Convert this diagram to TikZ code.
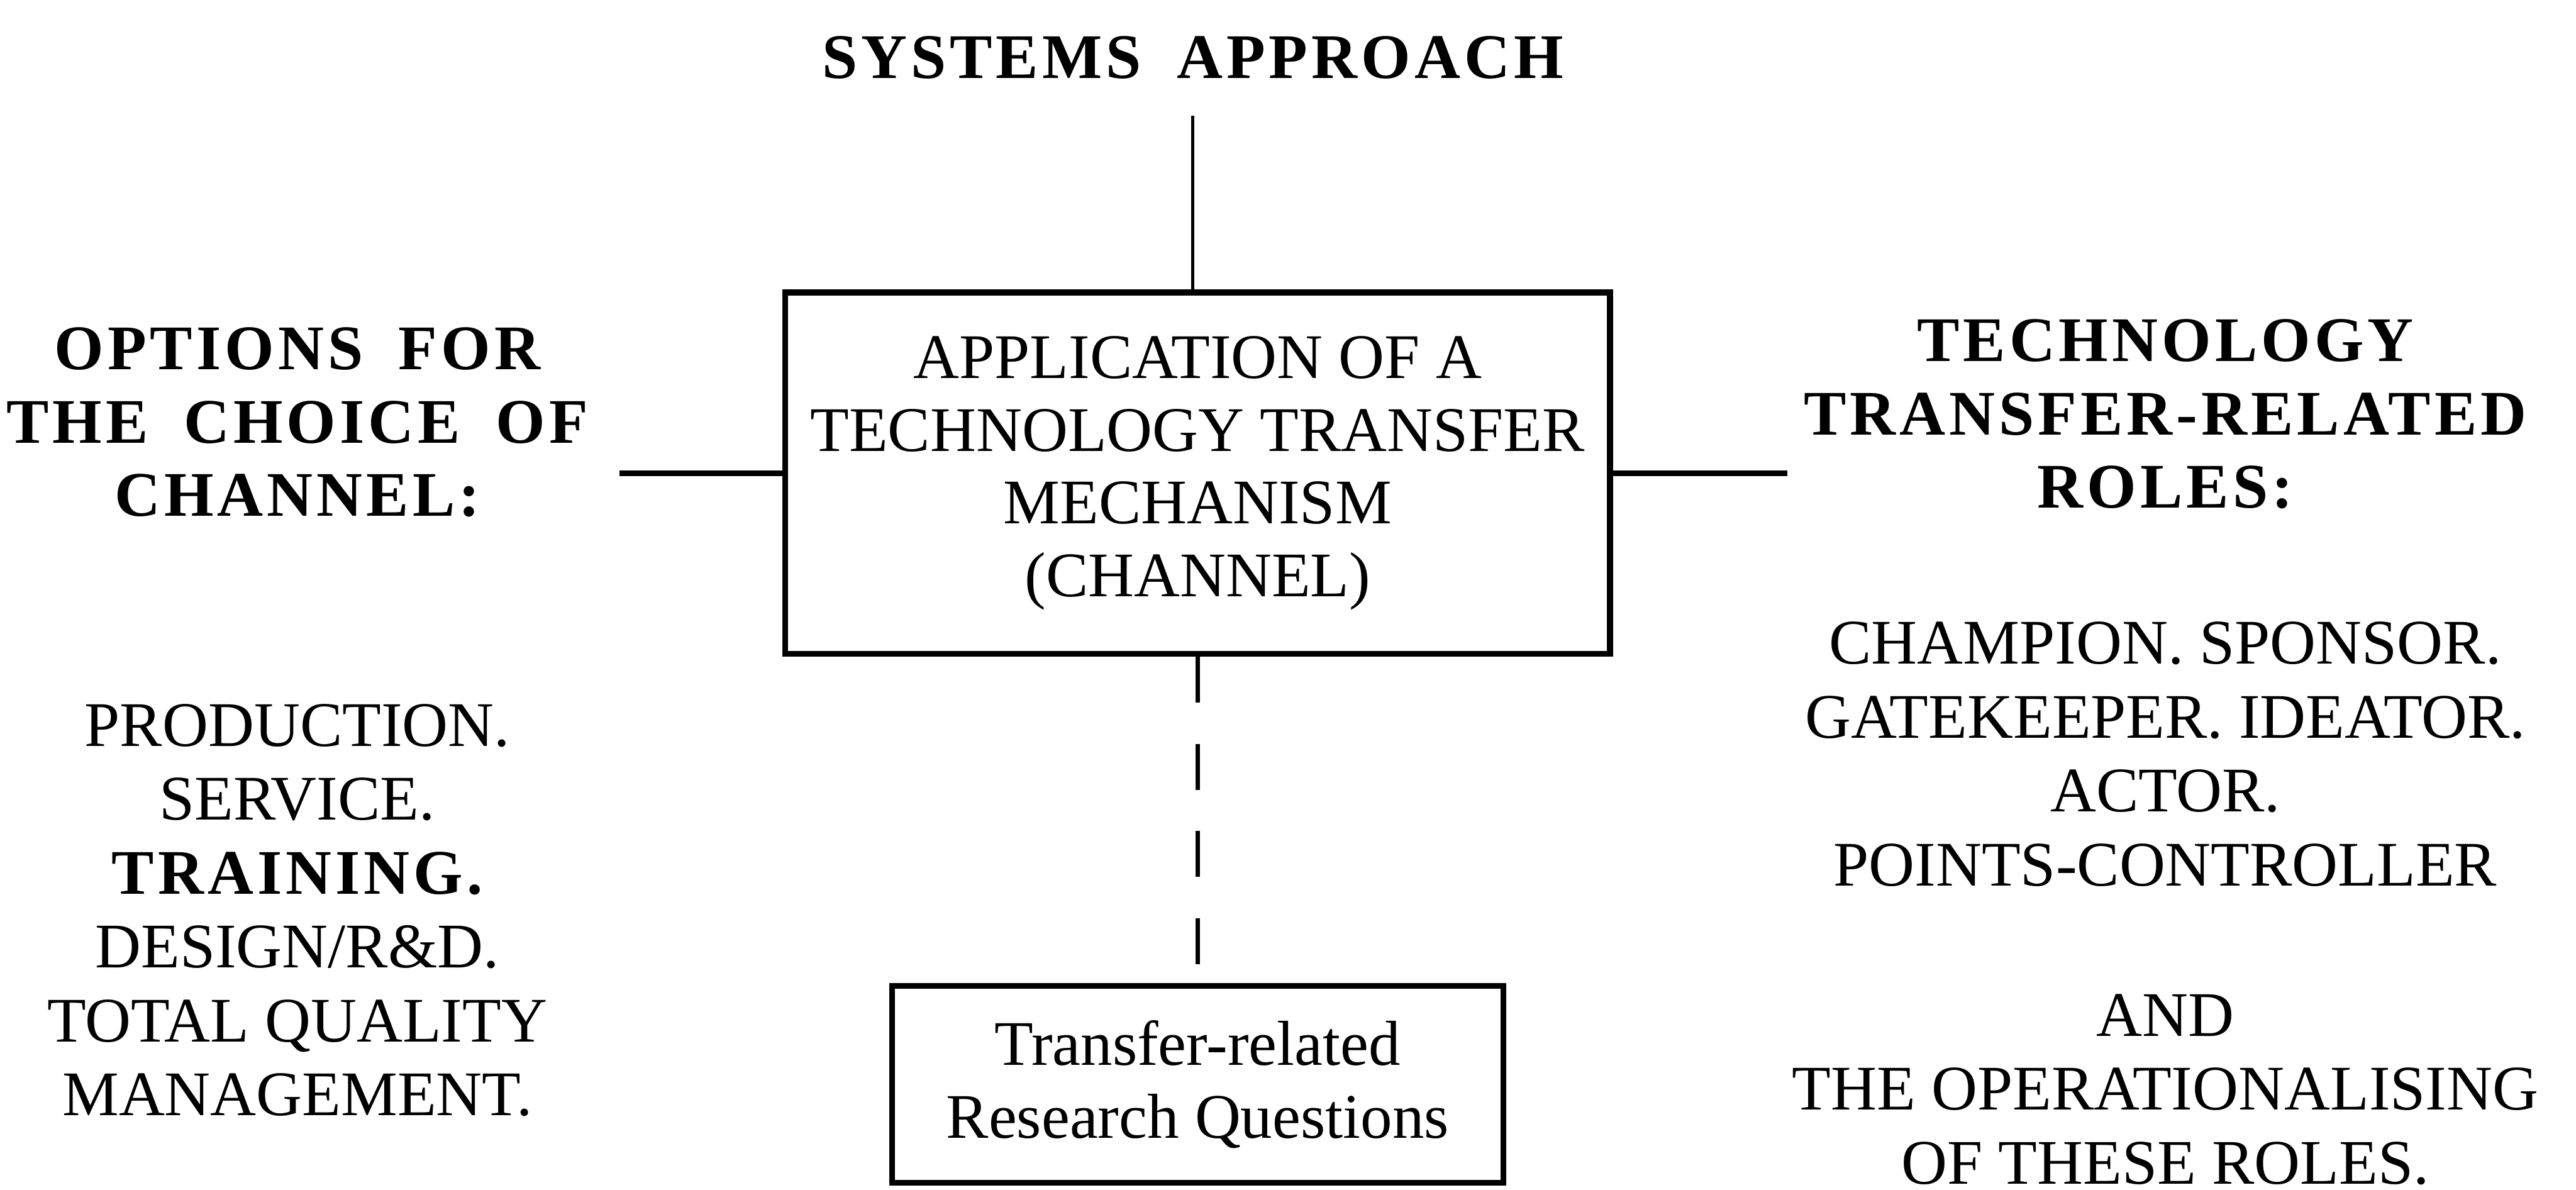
\documentclass[tikz,border=0pt]{standalone}
\usepackage{fontspec}
\setmainfont{Liberation Serif}
\newfontfamily\headfont{Liberation Serif}[LetterSpace=6,WordSpace=1.8]

\begin{document}
\begin{tikzpicture}[box/.style={draw, line width=1pt, align=center, inner sep=0pt, font=\fontsize{11}{12.6}\selectfont}, head/.style={align=center, font=\headfont\bfseries\fontsize{11}{12.7}\selectfont}, list/.style={align=center, font=\fontsize{11}{12.8}\selectfont}, link/.style={line width=1pt}, thin link/.style={line width=0.6pt}, dash link/.style={line width=0.8pt, dash pattern=on 0.28cm off 0.25cm}]
\useasboundingbox (0,0) rectangle (15.68,7.24);

\node[head] (title) at (7.26,6.89) {SYSTEMS APPROACH};
\node[box, minimum width=5.02cm, minimum height=2.2cm] (channel) at (7.29,4.36) {APPLICATION OF A\\TECHNOLOGY TRANSFER\\MECHANISM\\(CHANNEL)};
\node[box, minimum width=3.72cm, minimum height=1.2cm] (questions) at (7.29,0.64) {Transfer-related\\Research Questions};

\node[head] (options) at (1.81,4.67) {OPTIONS FOR\\THE CHOICE OF\\CHANNEL:};
\node[list] (choices) at (1.81,1.70) {PRODUCTION.\\SERVICE.\\{\headfont\bfseries TRAINING.}\\DESIGN/R\&D.\\TOTAL QUALITY\\MANAGEMENT.};
\node[head] (roles) at (13.18,4.72) {TECHNOLOGY\\TRANSFER-RELATED\\ROLES:};
\node[list] (rolelist) at (13.18,2.65) {CHAMPION. SPONSOR.\\GATEKEEPER. IDEATOR.\\ACTOR.\\POINTS-CONTROLLER};
\node[list] (operational) at (13.18,0.61) {AND\\THE OPERATIONALISING\\OF THESE ROLES.};

\coordinate (leftend) at (3.77,4.36); \coordinate (rightend) at (10.88,4.36);
\draw[thin link, shorten <=0.1cm] (title.south) -- (title.south |- channel.north);
\draw[link] (channel.west) -- (leftend); \draw[link] (channel.east) -- (rightend);
\draw[dash link] (channel.south) -- (questions.north);
\end{tikzpicture}
\end{document}
